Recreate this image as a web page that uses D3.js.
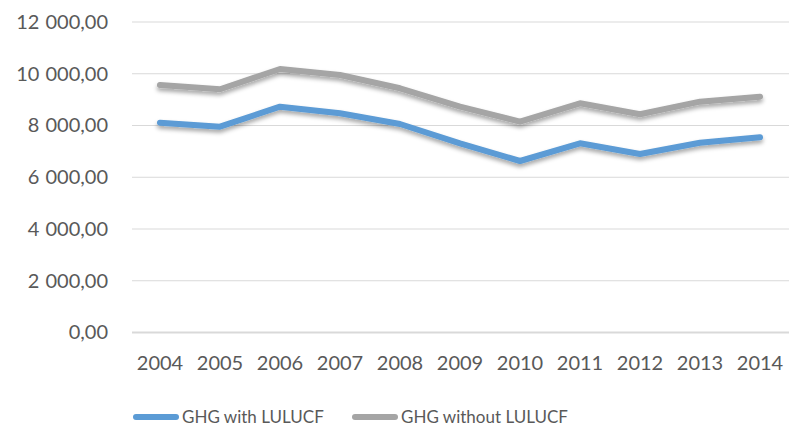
<!DOCTYPE html>
<html>
<head>
<meta charset="utf-8">
<script src="https://cdn.jsdelivr.net/npm/d3@7"></script>
<style>
  body { margin: 0; background: #fff; }
  text { font-family: Lato, "Open Sans", sans-serif; fill: #595959; }
</style>
</head>
<body>
<div class="chart"></div>
<script>
var years = ["2004", "2005", "2006", "2007", "2008", "2009", "2010", "2011", "2012", "2013", "2014"];
var ghgWith = [8110, 7955, 8728, 8471, 8058, 7312, 6628, 7312, 6899, 7336, 7544];
var ghgWithout = [9565, 9400, 10184, 9952, 9438, 8728, 8148, 8858, 8433, 8921, 9114];
var yTicks = [0, 2000, 4000, 6000, 8000, 10000, 12000];
var seriesNames = ["GHG with LULUCF", "GHG without LULUCF"];
var seriesColors = ["#5b9bd5", "#a5a5a5"];

var svgWidth = 789;
var svgHeight = 427;

var margin = { top: 22, right: -1, bottom: 94.5, left: 130 };
var width = svgWidth - margin.left - margin.right;
var height = svgHeight - margin.top - margin.bottom;

var svg = d3.select(".chart")
  .append("svg")
  .attr("width", svgWidth)
  .attr("height", svgHeight);

// soft shadow under the lines
var filter = svg.append("defs").append("filter")
  .attr("id", "shadow")
  .attr("x", "-10%").attr("y", "-30%")
  .attr("width", "120%").attr("height", "180%");
filter.append("feDropShadow")
  .attr("dx", 0).attr("dy", 3)
  .attr("stdDeviation", 2)
  .attr("flood-color", "#000")
  .attr("flood-opacity", 0.35);

var chartGroup = svg.append("g")
  .attr("transform", `translate(${margin.left}, ${margin.top})`);

var xScale = d3.scaleBand()
  .domain(years)
  .range([0, width]);

var yScale = d3.scaleLinear()
  .domain([0, 12000])
  .range([height, 0]);

var fmt = function(v) {
  return d3.format(",.2f")(v).replace(/,/g, " ").replace(".", ",");
};

// gridlines
chartGroup.selectAll(".grid")
  .data(yTicks)
  .enter()
  .append("line")
  .attr("x1", 2)
  .attr("x2", width)
  .attr("y1", d => yScale(d))
  .attr("y2", d => yScale(d))
  .attr("stroke", "#d9d9d9")
  .attr("stroke-width", d => d === 0 ? 2 : 1);

// y axis labels
var leftAxis = d3.axisLeft(yScale)
  .tickValues(yTicks)
  .tickFormat(fmt)
  .tickSize(0)
  .tickPadding(22);

chartGroup.append("g")
  .call(leftAxis)
  .call(g => g.select(".domain").remove())
  .selectAll("text")
  .style("font-family", "Lato, sans-serif")
  .style("font-size", "20px")
  .style("word-spacing", "1px")
  .style("fill", "#595959");

// x axis labels
var bottomAxis = d3.axisBottom(xScale)
  .tickSize(0)
  .tickPadding(23);

chartGroup.append("g")
  .attr("transform", `translate(0, ${height})`)
  .call(bottomAxis)
  .call(g => g.select(".domain").remove())
  .selectAll("text")
  .style("font-family", "Lato, sans-serif")
  .style("font-size", "20px")
  .style("fill", "#595959");

var line = d3.line()
  .x((d, i) => xScale(years[i]) + xScale.bandwidth() / 2)
  .y(d => yScale(d));

[ghgWith, ghgWithout].forEach(function(series, i) {
  chartGroup.append("path")
    .datum(series)
    .attr("d", line)
    .attr("fill", "none")
    .attr("stroke", seriesColors[i])
    .attr("stroke-width", 6)
    .attr("stroke-linecap", "round")
    .attr("stroke-linejoin", "round")
    .attr("filter", "url(#shadow)");
});

// legend
var legendPos = [133, 352];
var legend = svg.append("g");
seriesNames.forEach(function(name, i) {
  legend.append("line")
    .attr("x1", legendPos[i] + 3)
    .attr("x2", legendPos[i] + 43)
    .attr("y1", 417)
    .attr("y2", 417)
    .attr("stroke", seriesColors[i])
    .attr("stroke-width", 6)
    .attr("stroke-linecap", "round");
  legend.append("text")
    .attr("x", legendPos[i] + 49)
    .attr("y", 423)
    .style("font-size", "17px")
    .text(name);
});
</script>
</body>
</html>
